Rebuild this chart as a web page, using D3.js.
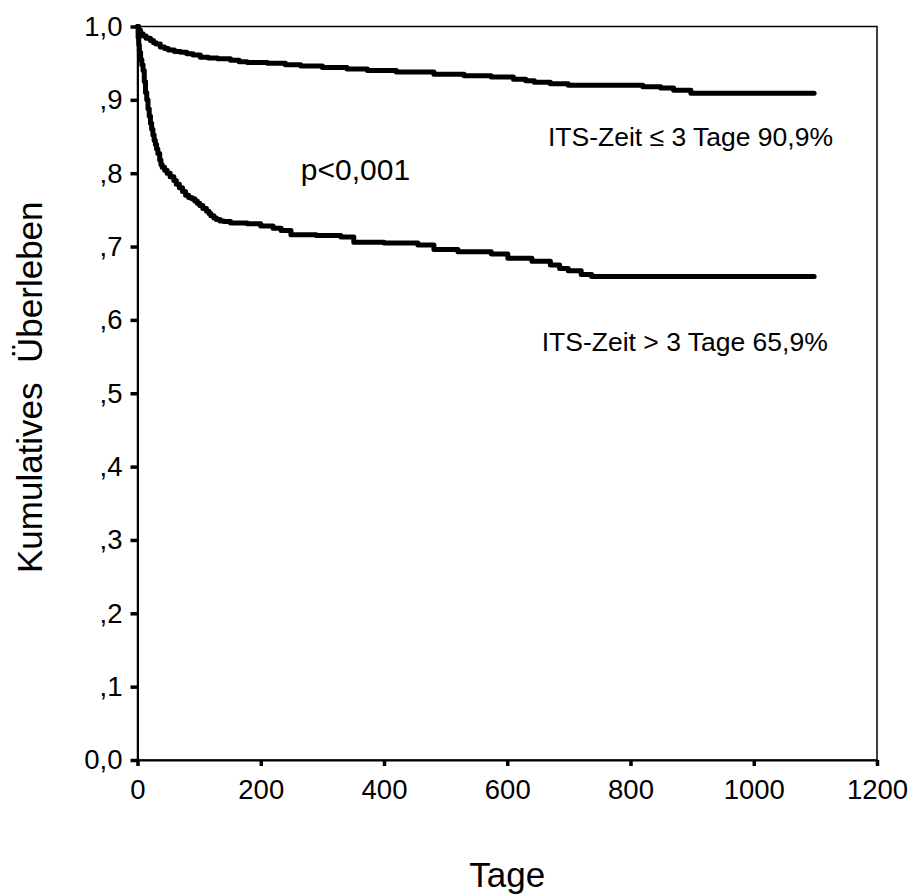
<!DOCTYPE html>
<html>
<head>
<meta charset="utf-8">
<script src="https://cdn.jsdelivr.net/npm/d3@7"></script>
<style>
  body { margin: 0; background: #fff; }
  svg text { font-family: "Liberation Sans", Arial, sans-serif; fill: #000; }
</style>
</head>
<body>
<svg id="chart" width="913" height="894"></svg>
<script>
// Kaplan-Meier steps: [Tage, kumulatives Ueberleben]
var its_short = [
    [0, 1.0], [2, 0.995], [5, 0.990], [9, 0.987], [14, 0.984], [21, 0.981], [26, 0.978],
    [30, 0.976], [37, 0.972], [44, 0.970], [50, 0.968], [60, 0.966], [70, 0.965], [80, 0.963],
    [90, 0.961], [102, 0.958], [115, 0.957], [130, 0.956], [151, 0.954], [165, 0.952],
    [178, 0.951], [211, 0.950], [240, 0.948], [265, 0.946], [300, 0.944], [340, 0.942],
    [373, 0.940], [420, 0.938], [481, 0.935], [530, 0.933], [574, 0.931], [610, 0.928],
    [630, 0.926], [644, 0.924], [670, 0.922], [699, 0.920], [820, 0.918], [849, 0.916],
    [870, 0.913], [898, 0.909], [1098, 0.909]
]
var its_long = [
    [0, 1.0], [1, 0.985], [2, 0.975], [3, 0.965], [5, 0.955], [7, 0.948], [9, 0.940],
    [11, 0.925], [13, 0.910], [15, 0.900], [17, 0.888], [19, 0.878], [21, 0.868],
    [23, 0.860], [25, 0.852], [27, 0.845], [29, 0.839], [31, 0.833], [33, 0.827],
    [36, 0.818], [38, 0.812], [40, 0.808], [44, 0.804], [48, 0.800], [53, 0.795],
    [59, 0.790], [63, 0.785], [68, 0.780], [73, 0.775], [78, 0.770], [83, 0.767],
    [88, 0.765], [93, 0.762], [97, 0.759], [101, 0.756], [106, 0.752], [112, 0.748],
    [116, 0.745], [119, 0.742], [124, 0.739], [128, 0.737], [134, 0.735], [140, 0.734],
    [151, 0.732], [178, 0.731], [200, 0.728], [220, 0.725], [233, 0.722], [249, 0.716],
    [290, 0.715], [330, 0.713], [351, 0.706], [400, 0.705], [455, 0.702], [481, 0.696],
    [520, 0.693], [574, 0.690], [601, 0.684], [640, 0.680], [670, 0.675], [685, 0.670],
    [699, 0.667], [720, 0.662], [737, 0.659], [1098, 0.659]
]
var x_ticks = [0, 200, 400, 600, 800, 1000, 1200]
var y_ticks = [0, 0.1, 0.2, 0.3, 0.4, 0.5, 0.6, 0.7, 0.8, 0.9, 1.0]
var y_labels = ["0,0", ",1", ",2", ",3", ",4", ",5", ",6", ",7", ",8", ",9", "1,0"]
// annotations: [text, Tage, y-wert of baseline, font size]
var notes = [
    ["p<0,001", 265, 0.791, 30],
    ["ITS-Zeit \u2264 3 Tage 90,9%", 666, 0.837, 26.5],
    ["ITS-Zeit > 3 Tage 65,9%", 656, 0.557, 26.5]
]

var svg = d3.select("#chart")
var margin = { top: 26.5, right: 36, bottom: 134, left: 137.5 }
var width = 913 - margin.left - margin.right
var height = 894 - margin.top - margin.bottom

var x = d3.scaleLinear().domain([0, 1200]).range([margin.left, margin.left + width])
var y = d3.scaleLinear().domain([0, 1]).range([margin.top + height, margin.top])

// frame (top + right thin)
svg.append("rect")
    .attr("x", x(0)).attr("y", y(1))
    .attr("width", x(1200) - x(0)).attr("height", y(0) - y(1))
    .attr("fill", "none").attr("stroke", "#000").attr("stroke-width", 1.5)

// y axis
var yAxis = svg.append("g")
    .attr("transform", "translate(" + x(0) + ",0)")
    .call(d3.axisLeft(y).tickValues(y_ticks).tickSize(7).tickSizeOuter(0).tickPadding(8)
        .tickFormat(function (d, i) { return y_labels[i] }))
yAxis.select(".domain").attr("stroke-width", 2)
yAxis.selectAll(".tick line").attr("stroke-width", 3.5)
yAxis.selectAll(".tick text").attr("font-size", 27.5).attr("font-family", null)

// x axis
var xAxis = svg.append("g")
    .attr("transform", "translate(0," + y(0) + ")")
    .call(d3.axisBottom(x).tickValues(x_ticks).tickSize(6).tickSizeOuter(0).tickPadding(13)
        .tickFormat(d3.format("d")))
xAxis.select(".domain").attr("stroke-width", 2)
xAxis.selectAll(".tick line").attr("stroke-width", 3.5)
xAxis.selectAll(".tick text").attr("font-size", 27.5).attr("font-family", null)

// survival curves
var line = d3.line()
    .x(function (d) { return x(d[0]) })
    .y(function (d) { return y(d[1]) })
    .curve(d3.curveStepAfter)

svg.selectAll(".km")
    .data([its_short, its_long])
    .enter()
    .append("path")
    .attr("class", "km")
    .attr("d", line)
    .attr("fill", "none")
    .attr("stroke", "#000")
    .attr("stroke-width", 5)
    .attr("stroke-linejoin", "round")
    .attr("stroke-linecap", "round")

// annotations
svg.selectAll(".note")
    .data(notes)
    .enter()
    .append("text")
    .attr("class", "note")
    .attr("x", function (d) { return x(d[1]) })
    .attr("y", function (d) { return y(d[2]) })
    .attr("font-size", function (d) { return d[3] })
    .text(function (d) { return d[0] })

// axis titles
svg.append("text")
    .attr("x", (x(0) + x(1200)) / 2)
    .attr("y", 887)
    .attr("text-anchor", "middle")
    .attr("font-size", 35)
    .text("Tage")

svg.append("text")
    .attr("transform", "translate(41.7," + ((y(0) + y(1)) / 2 - 6) + ")rotate(-90)")
    .attr("text-anchor", "middle")
    .attr("font-size", 35)
    .style("white-space", "pre")
    .text("Kumulatives  Überleben")
</script>
</body>
</html>
